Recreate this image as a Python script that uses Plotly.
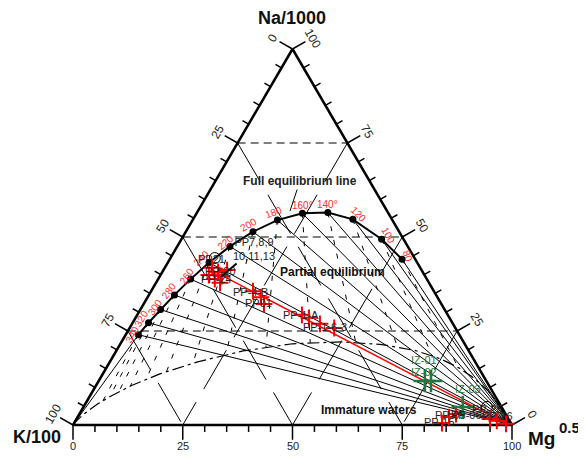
import numpy as np
import plotly.graph_objects as go

# ---------------- data (ternary %, Na/1000 - K/100 - Mg^0.5) ----------------
tick_vals = [0, 25, 50, 75, 100]
tick_text = ["0", "25", "50", "75", "100"]
grid_levels = [25, 50, 75]

# triangle vertices (Na apex, K corner, Mg corner)
tri_na = [100, 0, 0, 100]
tri_k = [0, 100, 0, 0]
tri_mg = [0, 0, 100, 0]

# full equilibrium line
temps = [80, 100, 120, 140, 160, 180, 200, 220, 240, 260, 280, 300, 320, 340]
temp_labels = ["80", "100", "120", "140°", "160°", "180", "200", "220", "240",
               "260", "280", "300", "320", "340"]
feq_na = [44.1, 49.4, 54.7, 56.5, 56.3, 54.5, 51.4, 47.5, 43.2, 38.8, 34.6, 30.7, 27.2, 24.0]
feq_k = [3.0, 5.0, 8.9, 13.7, 19.6, 26.2, 33.3, 40.5, 47.4, 53.8, 59.6, 64.7, 69.2, 73.1]
feq_mg = [52.9, 45.6, 36.4, 29.8, 24.1, 19.3, 15.3, 12.0, 9.4, 7.4, 5.8, 4.6, 3.6, 2.9]

# K/Mg isotherm end points on the partial-equilibrium boundary
kmg_na = [15.3, 18.4, 20.8, 22.0, 21.9, 20.7, 18.7, 16.4, 14.2, 12.1, 10.3, 8.8, 7.5, 6.5]
kmg_k = [4.6, 9.0, 15.7, 24.6, 35.0, 45.7, 55.8, 64.5, 71.6, 77.3, 81.8, 85.2, 87.9, 90.0]
kmg_mg = [80.2, 72.6, 63.5, 53.4, 43.1, 33.6, 25.5, 19.1, 14.2, 10.6, 7.9, 6.0, 4.6, 3.6]

# partial equilibrium / immature waters boundary
mi_na = [0, 0.7, 2.9, 5.7, 7.8, 10.5, 13.6, 16.8, 19.7, 21.6, 22.1, 21.4, 19.8, 17.6, 15.2, 12.9, 9.0, 4.1, 1.8, 0]
mi_k = [100, 99.2, 96.1, 91.4, 87.3, 81.4, 73.4, 63.2, 51.4, 39.2, 28.0, 18.9, 12.1, 7.5, 4.5, 2.7, 0.9, 0.1, 0, 0]
mi_mg = [0, 0.1, 1.0, 2.9, 4.9, 8.1, 13.0, 20.0, 28.9, 39.2, 49.9, 59.7, 68.1, 74.9, 80.3, 84.4, 90.1, 95.8, 98.2, 100]

# samples (red crosses)
pp_names = ["PP-7", "PP-8", "PP-9", "PP-10", "PP-11", "PP-13", "PP-20",
            "PP-4-B", "PP01", "PP-31",
            "PP-1-A", "PP-1-B", "PP-1-6-3", "PP-03",
            "PP-15", "PP-05", "PP-06",
            "PP-27", "PP-26", "PP-28"]
pp_na = [41.8, 40.7, 39.6, 38.8, 37.8, 41.2, 39.9, 35.6, 34.0, 32.2, 29.3, 28.5, 26.9, 25.8,
         0.5, 2.1, 2.9, 1.6, 1.1, 0.3]
pp_k = [47.4, 46.6, 46.3, 48.3, 47.6, 44.3, 49.1, 41.2, 40.2, 40.4, 33.2, 32.0, 30.3, 27.6,
        15.7, 13.3, 11.3, 4.2, 2.9, 1.2]
pp_mg = [10.8, 12.7, 14.1, 12.9, 14.6, 14.5, 11.0, 23.2, 25.8, 27.4, 37.5, 39.5, 42.8, 46.6,
         83.8, 84.6, 85.8, 94.2, 96.0, 98.5]

# samples (open circles)
oc_names = ["PP21", "PP-25"]
oc_na = [44.4, 4.8]
oc_k = [45.5, 3.3]
oc_mg = [10.1, 91.9]

# samples (green crosses)
iz_names = ["IZ-01", "IZ-02", "IZ-03"]
iz_na = [11.7, 11.7, 4.8]
iz_k = [14.0, 12.6, 8.8]
iz_mg = [74.3, 75.7, 86.4]

# dilution line
mix_na = [41.0, 0.5]
mix_k = [47.6, 1.3]
mix_mg = [11.4, 98.2]

# ---------------- helpers ----------------
SQ = np.sqrt(3) / 2
W, H = 578, 443          # page body has an 8px margin
OFF = 8


def to_xy(na, k, mg):
    na = np.asarray(na, float)
    k = np.asarray(k, float)
    mg = np.asarray(mg, float)
    s = na + k + mg
    a = na / s * 100
    c = mg / s * 100
    return c + a / 2, a * SQ


def pap(px, py):
    return (px - OFF) / W, 1 - (py - OFF) / H


FONT = "Liberation Sans, Arial, sans-serif"
fig = go.Figure()

# ---------------- grid lines ----------------
hx, hy = [], []
for v in grid_levels:
    x0, y0 = to_xy(v, 100 - v, 0)
    x1, y1 = to_xy(v, 0, 100 - v)
    hx += [float(x0), float(x1), None]
    hy += [float(y0), float(y1), None]
fig.add_trace(go.Scatter(x=hx, y=hy, mode="lines",
                         line=dict(color="black", width=1, dash="8px,5px"), hoverinfo="skip"))
dx_, dy_ = [], []
for v in grid_levels:
    x0, y0 = to_xy(100 - v, v, 0)
    x1, y1 = to_xy(0, v, 100 - v)
    dx_ += [float(x0), float(x1), None]
    dy_ += [float(y0), float(y1), None]
    x0, y0 = to_xy(100 - v, 0, v)
    x1, y1 = to_xy(0, 100 - v, v)
    dx_ += [float(x0), float(x1), None]
    dy_ += [float(y0), float(y1), None]
fig.add_trace(go.Scatter(x=dx_, y=dy_, mode="lines",
                         line=dict(color="black", width=1, dash="45px,15px"), hoverinfo="skip"))

# ---------------- isotherms ----------------
fx, fy = to_xy(feq_na, feq_k, feq_mg)
mgx, mgy = to_xy(0, 0, 100)
ix, iy = [], []
for a, b in zip(fx, fy):
    ix += [a, float(mgx), None]
    iy += [b, float(mgy), None]
fig.add_trace(go.Scatter(x=ix, y=iy, mode="lines", line=dict(color="black", width=1),
                         hoverinfo="skip"))
kx, ky = to_xy(kmg_na, kmg_k, kmg_mg)
jx, jy = [], []
for a, b, c, d in zip(fx, fy, kx, ky):
    jx += [a, c, None]
    jy += [b, d, None]
fig.add_trace(go.Scatter(x=jx, y=jy, mode="lines",
                         line=dict(color="black", width=1, dash="5px,9px"), hoverinfo="skip"))

# immature boundary
mx, my = to_xy(mi_na, mi_k, mi_mg)
fig.add_trace(go.Scatter(x=mx, y=my, mode="lines",
                         line=dict(color="black", width=1.2, dash="12px,4px,3px,4px"),
                         hoverinfo="skip"))

# extension of full equilibrium line to K corner
kcx, kcy = to_xy(0, 100, 0)
fig.add_trace(go.Scatter(x=[fx[-1], float(kcx)], y=[fy[-1], float(kcy)], mode="lines",
                         line=dict(color="black", width=1), hoverinfo="skip"))

# ---------------- triangle & ticks ----------------
tx, ty = to_xy(tri_na, tri_k, tri_mg)
fig.add_trace(go.Scatter(x=tx, y=ty, mode="lines", line=dict(color="black", width=2.5),
                         hoverinfo="skip"))

tkx, tky = [], []
edges = [
    (lambda v: to_xy(0, 100 - v, v), (0.0, -1.0)),          # bottom: Mg
    (lambda v: to_xy(100 - v, v, 0), (-SQ, 0.5)),           # left: K
    (lambda v: to_xy(v, 0, 100 - v), (SQ, 0.5)),            # right: Na
]
for fn, (nx, ny) in edges:
    for v in range(0, 101, 5):
        px, py = fn(v)
        L = 3.4 if v % 25 == 0 else 1.6
        tkx += [float(px), float(px) + nx * L, None]
        tky += [float(py), float(py) + ny * L, None]
fig.add_trace(go.Scatter(x=tkx, y=tky, mode="lines", line=dict(color="black", width=1.5),
                         hoverinfo="skip"))

# ---------------- full equilibrium line ----------------
fig.add_trace(go.Scatter(x=fx, y=fy, mode="lines+markers",
                         line=dict(color="black", width=2),
                         marker=dict(color="black", size=7), hoverinfo="skip"))

# ---------------- samples ----------------
xx, yy = to_xy(mix_na, mix_k, mix_mg)
fig.add_trace(go.Scatter(x=xx, y=yy, mode="lines", line=dict(color="red", width=1.5),
                         hoverinfo="skip"))
ox, oy = to_xy(oc_na, oc_k, oc_mg)
fig.add_trace(go.Scatter(x=ox, y=oy, mode="markers", text=oc_names,
                         marker=dict(symbol="circle-open", size=11, color="black",
                                     line=dict(width=1))))
px_, py_ = to_xy(pp_na, pp_k, pp_mg)
fig.add_trace(go.Scatter(x=px_, y=py_, mode="markers", text=pp_names,
                         marker=dict(symbol="cross-thin", size=12, color="red",
                                     line=dict(color="red", width=2))))
gx, gy = to_xy(iz_na, iz_k, iz_mg)
fig.add_trace(go.Scatter(x=gx, y=gy, mode="markers", text=iz_names,
                         marker=dict(symbol="cross-thin", size=16, color="#1b7a3e",
                                     line=dict(color="#1b7a3e", width=2.5))))

# ---------------- annotations ----------------
ann = []
C = dict(xanchor="center", yanchor="middle")
for v, t in zip(tick_vals, tick_text):
    bx, by = to_xy(0, 100 - v, v)
    ann.append(dict(x=float(bx), y=float(by), text=t, showarrow=False, yshift=-21, **C,
                    font=dict(size=11, color="#222", family=FONT)))
    lx, ly = to_xy(100 - v, v, 0)
    ann.append(dict(x=float(lx), y=float(ly), text=t, showarrow=False, xshift=-20, yshift=11,
                    textangle=-60, **C, font=dict(size=12, color="#222", family=FONT)))
    rx, ry = to_xy(v, 0, 100 - v)
    ann.append(dict(x=float(rx), y=float(ry), text=t, showarrow=False, xshift=20, yshift=11,
                    textangle=60, **C, font=dict(size=12, color="#222", family=FONT)))

# temperature labels
t_dx = [6, 7, 6, 0, 0, -4, -4, -4.5, -8, -4.5, -5.5, -6, -7, -6]
t_dy = [-3, -4, -5, -8, -8, -8, -7, -4, -4, -3, -4.5, -2.5, -4, 0]
t_ang = [70, 60, 45, 0, 0, -20, -30, -40, -45, -55, -55, -55, -60, -60]
for i, lab in enumerate(temp_labels):
    ann.append(dict(x=float(fx[i]), y=float(fy[i]), text=lab, showarrow=False, **C,
                    xshift=t_dx[i], yshift=-t_dy[i], textangle=t_ang[i],
                    font=dict(size=10, color="#ff2a2a", family=FONT)))

# sample labels: (text, x, y, dx, dy)
lab_specs = [
    ("PP21", ox[0], oy[0], -3, 1),
    ("PP-20", px_[5], py_[5], -7, 1),
    ("PP-24", px_[4], py_[4], -4, -4),
    ("PP-4-B", px_[7], py_[7], -2, 1),
    ("PP01", px_[8], py_[8], -2, 6),
    ("PP-1-A", px_[10], py_[10], -1, 0),
    ("PP-1-6-3", px_[12], py_[12], 5, 3),
    ("PP-15", px_[14], py_[14], -2, -1),
    ("PP-05", px_[15], py_[15], 1, -2),
    ("PP-06", px_[16], py_[16], 10, 1),
    ("PP-25", ox[1], oy[1], 1, 2),
    ("PP-26", px_[18], py_[18], 1, -5),
]
for t, x0, y0, dx, dy in lab_specs:
    ann.append(dict(x=float(x0), y=float(y0), text=t, showarrow=False, xshift=dx, yshift=-dy,
                    **C, font=dict(size=11, color="#222", family=FONT)))
iz_specs = [(0, -1, -21), (1, -7, -9), (2, 5, -18)]
for i, dx, dy in iz_specs:
    ann.append(dict(x=float(gx[i]), y=float(gy[i]), text=iz_names[i], showarrow=False, **C,
                    xshift=dx, yshift=-dy, font=dict(size=11, color="#1b7a3e", family=FONT)))

# grouped label with leader
ann.append(dict(x=float(px_[2]), y=float(py_[2]), text="PP7,8,9<br>10,11,13", showarrow=True,
                ax=32, ay=-27, arrowhead=0, arrowwidth=2, arrowcolor="black", standoff=0,
                font=dict(size=11, color="#222", family=FONT)))

# region labels
ann.append(dict(x=49.43, y=49.3, text="<b>Full equilibrium line</b>", showarrow=True,
                ax=10, ay=-30, arrowhead=0, arrowwidth=1, arrowcolor="black", standoff=0,
                font=dict(size=12, color="#222", family=FONT)))
for t, (px0, py0), sz in [("<b>Partial equilibrium</b>", (332.5, 271.5), 12),
                          ("<b>Immature waters</b>", (368.5, 410), 12),
                          ("<b>Na/1000</b>", (292, 18), 18),
                          ("<b>K/100</b>", (37, 437), 18),
                          ("<b>Mg</b>", (541, 438), 19),
                          ("<b>0.5</b>", (569, 427), 15)]:
    xp, yp = pap(px0, py0)
    ann.append(dict(x=xp, y=yp, xref="paper", yref="paper", text=t, showarrow=False, **C,
                    font=dict(size=sz, color="#111", family=FONT)))

fig.update_layout(
    width=W, height=H, autosize=False,
    margin=dict(l=0, r=0, t=0, b=0, pad=0),
    paper_bgcolor="white", plot_bgcolor="white",
    showlegend=False, hovermode=False,
    xaxis=dict(range=[-65 / 4.39, (W - 65) / 4.39], visible=False, fixedrange=True),
    yaxis=dict(range=[-(H - 417) / 4.3417, 417 / 4.3417], visible=False, fixedrange=True),
    annotations=ann,
)
fig.write_html("out.html", config={"displayModeBar": False})
